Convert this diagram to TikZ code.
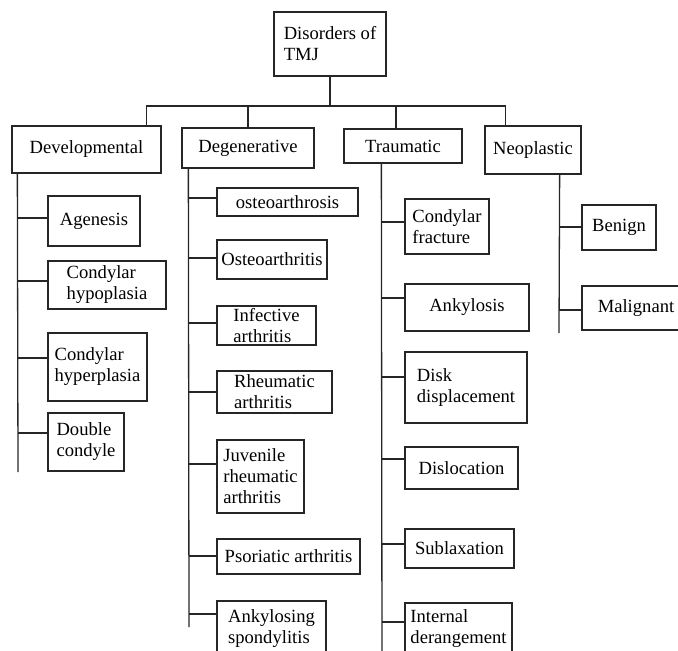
\documentclass[tikz,border=0pt]{standalone}
\usepackage{fontspec}
\setmainfont{Liberation Serif}

\begin{document}
\begin{tikzpicture}[x=1pt, y=-1pt, line width=1.3pt, draw=black!85,
        font=\fontsize{18.6}{21}\selectfont,
        box/.style 2 args={draw, rectangle, align=left, inner sep=2pt,
            minimum width=#1pt, minimum height=#2pt}]
        \useasboundingbox (0,0) rectangle (678,651);
        \clip (0,0) rectangle (678,651);

        % root and the four groups
        \node[box={112}{64}] (root) at (330,44) {Disorders of\\TMJ};
        \node[box={149}{47}] (dev) at (86.5,149.5) {Developmental};
        \node[box={132}{40}] (deg) at (248,148) {Degenerative};
        \node[box={118}{34}] (trau) at (403,146) {Traumatic};
        \node[box={96}{48}] (neo) at (533,150) {Neoplastic};

        % developmental
        \node[box={92}{50}] (agen) at (94,221) {Agenesis};
        \node[box={118}{48}] (hypo) at (107,285) {Condylar\\hypoplasia};
        \node[box={99}{68}] (hyper) at (97.5,367) {Condylar\\hyperplasia};
        \node[box={76}{58}] (dbl) at (86,442) {Double\\condyle};

        % degenerative
        \node[box={141}{28}] (osts) at (287.5,202) {osteoarthrosis};
        \node[box={110}{39}] (ostt) at (272,259.5) {Osteoarthritis};
        \node[box={99}{39}] (infe) at (266.5,325.5) {Infective\\arthritis};
        \node[box={115}{42}] (rheu) at (274.5,392) {Rheumatic\\arthritis};
        \node[box={87}{73}] (juve) at (260.5,476.5) {Juvenile\\rheumatic\\arthritis};
        \node[box={143}{35}] (psor) at (288.5,556.5) {Psoriatic arthritis};
        \node[box={109}{56}] (anks) at (271.5,629) {Ankylosing\\spondylitis};

        % traumatic
        \node[box={84}{55}] (cfra) at (447,226.5) {Condylar\\fracture};
        \node[box={124}{47}] (ankl) at (467,307.5) {Ankylosis};
        \node[box={122}{71}] (disk) at (466,387.5) {Disk\\displacement};
        \node[box={113}{42}] (disl) at (461.5,468) {Dislocation};
        \node[box={109}{39}] (subl) at (459.5,548.5) {Sublaxation};
        \node[box={107}{52}] (inte) at (458.5,629) {Internal\\derangement};

        % neoplastic
        \node[box={74}{45}] (beni) at (619,227.5) {Benign};
        \node[box={108}{44}] (mali) at (636,308) {Malignant};

        % tree lines
        \coordinate (bus) at (330,106);
        \draw (root.south) -- (bus);
        \draw (bus) -| ([xshift=-15pt]dev.north east);
        \draw (bus) -| (deg.north);
        \draw (bus) -| ([xshift=-7pt]trau.north);
        \draw (bus) -| ([xshift=21pt]neo.north west);

        \coordinate (devend) at (18,472);
        \coordinate (degend) at (189,627);
        \coordinate (trauend) at (382,660);
        \coordinate (neoend) at (559,333);
        \draw ([xshift=6pt]dev.south west) -- (devend);
        \draw ([xshift=7pt]deg.south west) -- (degend);
        \draw ([xshift=38pt]trau.south west) -- (trauend);
        \draw ([xshift=-22pt]neo.south east) -- (neoend);

        \foreach \c/\dy in {agen/3, hypo/4, hyper/9, dbl/9}
            \draw ([yshift=\dy pt]\c.west) -- ([yshift=\dy pt]\c.west -| devend);
        \foreach \c/\dy in {osts/4, ostt/1.5, infe/2.5, rheu/0, juve/12.5, psor/0.5, anks/15}
            \draw ([yshift=\dy pt]\c.west) -- ([yshift=\dy pt]\c.west -| degend);
        \foreach \c/\dy in {cfra/4.5, ankl/9.5, disk/10.5, disl/9, subl/4.5, inte/7}
            \draw ([yshift=\dy pt]\c.west) -- ([yshift=\dy pt]\c.west -| trauend);
        \foreach \c/\dy in {beni/0.5, mali/-2}
            \draw ([yshift=\dy pt]\c.west) -- ([yshift=\dy pt]\c.west -| neoend);
    \end{tikzpicture}
\end{document}
